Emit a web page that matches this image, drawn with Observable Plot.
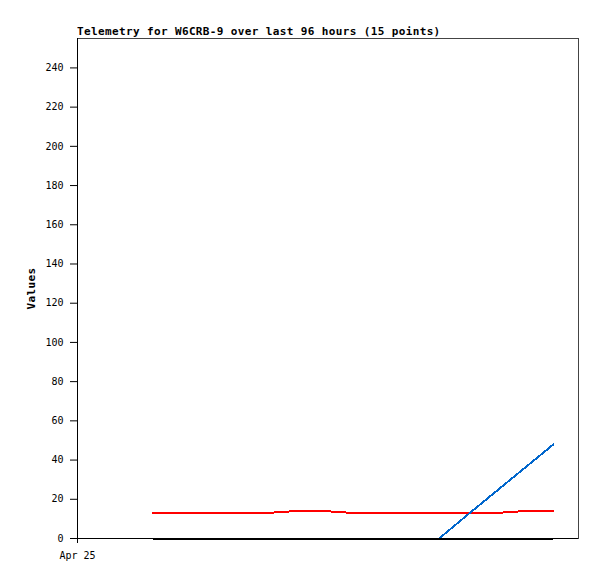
<!DOCTYPE html>
<html>
<head>
<meta charset="utf-8">
<script src="https://cdn.jsdelivr.net/npm/d3@7"></script>
<script src="https://cdn.jsdelivr.net/npm/@observablehq/plot@0.6"></script>
<style>
  body { margin: 0; background: #fff; }
  #wrap { position: relative; width: 597px; height: 579px; }
  #title { position: absolute; left: 77px; top: 26px; font: bold 11px "DejaVu Sans Mono", monospace; line-height: 11px; letter-spacing: 0.37px; color: #000; white-space: nowrap; }
  #chart svg [aria-label="y-axis label"] text { font-weight: bold; font-size: 11px; letter-spacing: 0.37px; }
</style>
</head>
<body>
<div id="wrap">
  <div id="chart"></div>
  <div id="title">Telemetry for W6CRB-9 over last 96 hours (15 points)</div>
</div>
<script>
// Hours since Apr 25 00:00 for each of the 15 samples
const hours = [14.4, 19.9, 25.4, 30.8, 36.3, 41.8, 47.3, 52.8, 58.3, 63.8, 69.3, 74.7, 80.2, 85.7, 91.2];
const redValues   = [13, 13, 13, 13, 13, 14, 14, 13, 13, 13, 13, 13, 13, 14, 14];
const blueValues  = [0, 0, 0, 0, 0, 0, 0, 0, 0, 0, 0, 12, 24, 36, 48];
const blackValues = [0, 0, 0, 0, 0, 0, 0, 0, 0, 0, 0, 0, 0, 0, 0];
const yTicks = [0, 20, 40, 60, 80, 100, 120, 140, 160, 180, 200, 220, 240];
const xTicks = [0];
const xTickLabels = ["Apr 25"];

const toRows = vals => hours.map((h, i) => ({h, v: vals[i]}));

const chart = Plot.plot({
  width: 597,
  height: 579,
  marginLeft: 77,
  marginRight: 19,
  marginTop: 38,
  marginBottom: 41,
  style: {fontFamily: "'DejaVu Sans Mono', monospace", fontSize: "10px", background: "#fff", color: "#000"},
  x: {domain: [0, 96], ticks: xTicks, tickFormat: d => xTickLabels[xTicks.indexOf(d)], tickSize: 5, tickPadding: 8, label: null},
  y: {domain: [0, 255], ticks: yTicks, tickSize: 7, tickPadding: 7, label: "Values", labelArrow: "none", labelAnchor: "center", labelOffset: 50},
  marks: [
    Plot.frame({stroke: "#444", shapeRendering: "crispEdges"}),
    Plot.line(toRows(redValues), {x: "h", y: "v", stroke: "#ff0000", strokeWidth: 2, shapeRendering: "crispEdges"}),
    Plot.line(toRows(blueValues), {x: "h", y: "v", stroke: "#0066cc", strokeWidth: 2, shapeRendering: "crispEdges"}),
    Plot.line(toRows(blackValues), {x: "h", y: "v", stroke: "#000", strokeWidth: 2, shapeRendering: "crispEdges"}),
    Plot.ruleX([0], {stroke: "#000", shapeRendering: "crispEdges"}),
    Plot.ruleY([0], {stroke: "#000", shapeRendering: "crispEdges"})
  ]
});
document.getElementById("chart").appendChild(chart);
</script>
</body>
</html>
